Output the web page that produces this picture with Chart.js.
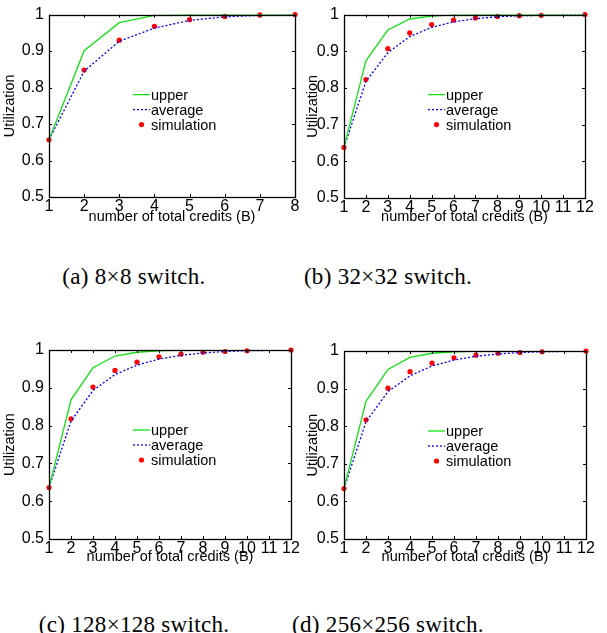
<!DOCTYPE html>
<html>
<head>
<meta charset="utf-8">
<script src="https://cdn.jsdelivr.net/npm/chart.js@4.4.1/dist/chart.umd.min.js"></script>
<style>
  body { margin: 0; background: #fff; }
  #fig { position: relative; width: 607px; height: 633px; overflow: hidden; }
  canvas { position: absolute; }
  .cap { position: absolute; font-family: "Liberation Serif", "DejaVu Serif", serif; font-size: 23px; letter-spacing: 0.3px; color: #000; white-space: nowrap; transform: translate(-50%, -50%); }
</style>
</head>
<body>
<div id="fig">
  <canvas id="chartA" width="300" height="230" style="left:0;top:0"></canvas>
  <canvas id="chartB" width="307" height="230" style="left:300px;top:0"></canvas>
  <canvas id="chartC" width="300" height="240" style="left:0;top:330px"></canvas>
  <canvas id="chartD" width="307" height="240" style="left:300px;top:330px"></canvas>
  <div class="cap" style="left:134px;top:277px">(a) 8×8 switch.</div>
  <div class="cap" style="left:388px;top:277px">(b) 32×32 switch.</div>
  <div class="cap" style="left:134px;top:625px">(c) 128×128 switch.</div>
  <div class="cap" style="left:388px;top:625px">(d) 256×256 switch.</div>
</div>
<script>
// number of total credits
const credits8 = ['1', '2', '3', '4', '5', '6', '7', '8'];
const credits12 = ['1', '2', '3', '4', '5', '6', '7', '8', '9', '10', '11', '12'];

// (a) 8x8
const upperA = [0.657, 0.901, 0.978, 0.998, 1.0, 1.0, 1.0, 1.0];
const averageA = [0.657, 0.845, 0.927, 0.963, 0.984, 0.994, 0.998, 1.0];
const simA = [0.657, 0.848, 0.930, 0.968, 0.986, 0.995, 0.999, 1.0];

// (b) 32x32
const upperB = [0.638, 0.874, 0.958, 0.988, 0.996, 0.999, 1.0, 1.0, 1.0, 1.0, 1.0, 1.0];
const averageB = [0.638, 0.818, 0.896, 0.940, 0.965, 0.980, 0.989, 0.994, 0.997, 0.998, 0.999, 1.0];
const simB = [0.638, 0.823, 0.907, 0.950, 0.973, 0.985, 0.991, 0.995, 0.997, 0.998, null, 1.0];

// (c) 128x128
const upperC = [0.636, 0.868, 0.953, 0.984, 0.994, 0.998, 1.0, 1.0, 1.0, 1.0, 1.0, 1.0];
const averageC = [0.636, 0.812, 0.893, 0.935, 0.960, 0.976, 0.986, 0.992, 0.996, 0.998, 0.999, 1.0];
const simC = [0.636, 0.818, 0.902, 0.946, 0.968, 0.982, 0.989, 0.994, 0.996, 0.998, null, 1.0];

// (d) 256x256
const upperD = [0.634, 0.866, 0.951, 0.983, 0.994, 0.998, 1.0, 1.0, 1.0, 1.0, 1.0, 1.0];
const averageD = [0.634, 0.812, 0.892, 0.934, 0.960, 0.976, 0.986, 0.992, 0.996, 0.998, 0.999, 1.0];
const simD = [0.634, 0.817, 0.901, 0.945, 0.968, 0.982, 0.989, 0.994, 0.996, 0.998, null, 1.0];

const legendNames = ['upper', 'average', 'simulation'];

const GREEN = 'rgb(20,225,20)';
const BLUE = 'rgb(0,0,255)';
const RED = 'rgb(255,0,0)';
const SANS = '"Liberation Sans", Arial, sans-serif';

// matlab-like box, inward ticks on all sides, legend inside the axes
const boxPlugin = {
    id: 'boxPlugin',
    afterDatasetsDraw(chart) {
        const ctx = chart.ctx;
        const a = chart.chartArea;
        const xs = chart.scales.x, ys = chart.scales.y;
        const tl = 3;
        ctx.save();
        ctx.strokeStyle = '#000';
        ctx.lineWidth = 1;
        ctx.beginPath();
        xs.ticks.forEach((t, i) => {
            const px = Math.round(xs.getPixelForTick(i)) + 0.5;
            ctx.moveTo(px, a.bottom); ctx.lineTo(px, a.bottom - tl);
            ctx.moveTo(px, a.top); ctx.lineTo(px, a.top + tl);
        });
        ys.ticks.forEach(t => {
            const py = Math.round(ys.getPixelForValue(t.value)) + 0.5;
            ctx.moveTo(a.left, py); ctx.lineTo(a.left + tl, py);
            ctx.moveTo(a.right, py); ctx.lineTo(a.right - tl, py);
        });
        ctx.stroke();
        ctx.lineWidth = 1.3;
        ctx.strokeRect(Math.round(a.left) + 0.5, Math.round(a.top) + 0.5,
            Math.round(a.right - a.left), Math.round(a.bottom - a.top));

        // legend
        const lx = a.left + 84, ly = a.top + 80, gap = 15, len = 17;
        ctx.font = '14.5px ' + SANS;
        ctx.textBaseline = 'middle';
        ctx.fillStyle = '#000';
        chart.data.datasets.forEach((ds, i) => {
            const y = ly + i * gap;
            if (ds.showLine === false) {
                ctx.beginPath();
                ctx.fillStyle = ds.pointBackgroundColor;
                ctx.arc(lx + len / 2, y, ds.pointRadius, 0, Math.PI * 2);
                ctx.fill();
            } else {
                ctx.beginPath();
                ctx.strokeStyle = ds.borderColor;
                ctx.lineWidth = ds.borderWidth;
                ctx.setLineDash(ds.borderDash || []);
                ctx.moveTo(lx, y); ctx.lineTo(lx + len, y);
                ctx.stroke();
                ctx.setLineDash([]);
            }
            ctx.fillStyle = '#000';
            ctx.fillText(ds.label, lx + len + 1, y + 1);
        });
        ctx.restore();
    }
};

function makeChart(id, labels, upper, average, sim, lay) {
    const ctx = document.getElementById(id).getContext('2d');
    return new Chart(ctx, {
        type: 'line',
        data: {
            labels: labels,
            datasets: [
                { label: legendNames[0], data: upper, borderColor: GREEN, borderWidth: 1.3, pointRadius: 0, fill: false, tension: 0 },
                { label: legendNames[1], data: average, borderColor: BLUE, borderWidth: 1.3, borderDash: [2, 2], pointRadius: 0, fill: false, tension: 0 },
                { label: legendNames[2], data: sim, showLine: false, pointRadius: 2.6, pointBackgroundColor: RED, pointBorderWidth: 0, borderColor: RED, clip: false }
            ]
        },
        options: {
            responsive: false,
            animation: false,
            devicePixelRatio: 1,
            layout: { padding: { left: 0, right: lay.right, top: lay.top, bottom: 0 } },
            plugins: { legend: { display: false }, tooltip: { enabled: false } },
            scales: {
                x: {
                    offset: false,
                    grid: { display: false, drawTicks: false },
                    border: { display: false },
                    ticks: { color: '#000', font: { family: SANS, size: 16 }, padding: 0, autoSkip: false, maxRotation: 0 },
                    title: { display: true, text: 'number of total credits (B)', color: '#000', font: { family: SANS, size: 14.5 }, padding: { top: 0, bottom: lay.xtPad } },
                    afterFit: s => { s.height = lay.xh; }
                },
                y: {
                    min: 0.5, max: 1,
                    grid: { display: false, drawTicks: false },
                    border: { display: false },
                    ticks: {
                        stepSize: 0.1, color: '#000', font: { family: SANS, size: 16 }, padding: 5,
                        callback: v => Math.abs(v - 1) < 1e-9 ? '1' : v.toFixed(1)
                    },
                    title: { display: true, text: 'Utilization', color: '#000', font: { family: SANS, size: 14.5 }, padding: { top: lay.ytPad, bottom: 0 } },
                    afterFit: s => { s.width = lay.yw; }
                }
            }
        },
        plugins: [boxPlugin]
    });
}

makeChart('chartA', credits8, upperA, averageA, simA, { right: 5, top: 5, yw: 49, xh: 33, xtPad: 4, ytPad: 1.3 });
makeChart('chartB', credits12, upperB, averageB, simB, { right: 22, top: 11, yw: 44, xh: 32, xtPad: 4, ytPad: 4.3 });
makeChart('chartC', credits12, upperC, averageC, simC, { right: 9, top: 20, yw: 49, xh: 31, xtPad: 4.3, ytPad: 1.3 });
makeChart('chartD', credits12, upperD, averageD, simD, { right: 21, top: 21, yw: 44, xh: 31, xtPad: 4.3, ytPad: 4.3 });
</script>
</body>
</html>
